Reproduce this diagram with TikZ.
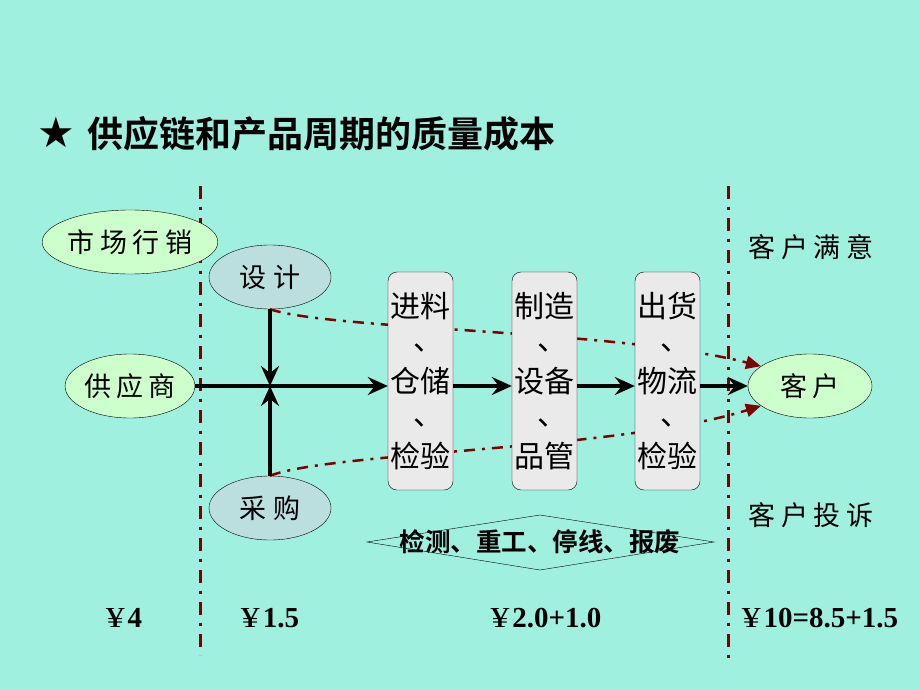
\documentclass[tikz,border=0pt]{standalone}
\usepackage{fontspec}
\setmainfont{Liberation Serif}
\newfontfamily\hei[BoldFont={Noto Sans CJK SC Bold}]{Noto Sans CJK SC}
\newfontfamily\kai[LetterSpace=20]{Noto Sans CJK SC}
\newfontfamily\sym{DejaVu Sans}
\usetikzlibrary{shapes.geometric,arrows.meta}
\definecolor{sea}{HTML}{A0F0E0}
\definecolor{leaf}{HTML}{CCFFCC}
\definecolor{mist}{HTML}{BBDFDF}
\definecolor{pale}{HTML}{EAEAEA}
\definecolor{brick}{HTML}{800000}
\newcommand\dun{\hspace*{.55em}\raisebox{.15em}{、}}
\newcommand\yuan{{\mdseries\scalebox{1.3}[1]{¥}}\hspace{3pt}}

\begin{document}
\begin{tikzpicture}[x=1pt,y=-1pt,
  oval/.style={ellipse,draw,thin,minimum width=124pt,minimum height=64pt,inner sep=0pt,font=\kai\fontsize{27}{27}\selectfont},
  stage/.style={draw,thin,rounded corners=9pt,fill=pale,minimum width=65pt,minimum height=218pt,inner sep=0pt,align=center,font=\hei\fontsize{30}{37.5}\selectfont},
  flow/.style={line width=3.5pt,-{Stealth[length=20pt,width=18pt,inset=7pt]}},
  cut/.style={brick,line width=3pt,dash pattern=on 13pt off 8pt on 3pt off 8pt},
  trace/.style={brick,line width=2.5pt,dash pattern=on 11pt off 7pt on 3pt off 7pt,-{Triangle[length=15pt,width=13pt]}},
  money/.style={anchor=base,font=\bfseries\fontsize{29}{29}\selectfont}]
  \fill[sea] (0,0) rectangle (920,690);
  \node (title) [anchor=west] at (34,134) {{\sym\fontsize{42}{42}\selectfont ★}\hspace{12pt}{\hei\bfseries\fontsize{36}{36}\selectfont 供应链和产品周期的质量成本}};
  % dividing lines
  \draw[cut] (200,186) -- (200,655);
  \draw[cut] (728,186) -- (728,660);
  \node[oval,fill=leaf] (market) at (130,242) {市场行销};
  \node[oval,fill=mist,minimum width=122pt] (design) at (270,277) {设\hspace{8pt}计};
  \node[oval,fill=leaf] (supplier) at (130,386) {供应商};
  \node[oval,fill=mist,minimum width=122pt] (purchase) at (270,508) {采\hspace{8pt}购};
  \node[oval,fill=leaf] (customer) at (810,386) {客户};
  \node[font=\kai\fontsize{27}{27}\selectfont] (happy) at (811,247) {客户满意};
  \node[font=\kai\fontsize{27}{27}\selectfont] (unhappy) at (811,515) {客户投诉};
  % quality cost paths
  \draw[trace] (design.south) .. controls (330,330) and (620,330) .. (customer.158);
  \draw[trace] (purchase.north) .. controls (330,452) and (620,450) .. (customer.202);
  \node[stage] (store) at (420.5,381) {进料\\\dun\\仓储\\\dun\\检验};
  \node[stage] (make) at (544.5,381) {制造\\\dun\\设备\\\dun\\品管};
  \node[stage] (ship) at (667.5,381) {出货\\\dun\\物流\\\dun\\检验};
  \coordinate (hub) at (design |- supplier);
  \draw[flow] (supplier) -- (store.west |- supplier);
  \draw[flow] (design) -- (hub);
  \draw[flow] (purchase) -- (hub);
  \draw[flow] (store.east |- supplier) -- (make.west |- supplier);
  \draw[flow] (make.east |- supplier) -- (ship.west |- supplier);
  \draw[flow] (ship.east |- customer) -- (customer);
  \draw[thin] (367,542) -- (540,515) -- (714,542) -- (540,570) -- cycle;
  \node[font=\hei\bfseries\fontsize{25.5}{25.5}\selectfont] (rework) at (540,542) {检测、重工、停线、报废};
  \node[money] (c1) at (124,627) {\yuan 4};
  \node[money] (c2) at (270,627) {\yuan 1.5};
  \node[money] (c3) at (546,627) {\yuan 2.0+1.0};
  \node[money] (c4) at (820,627) {\yuan 10=8.5+1.5};
\end{tikzpicture}
\end{document}
